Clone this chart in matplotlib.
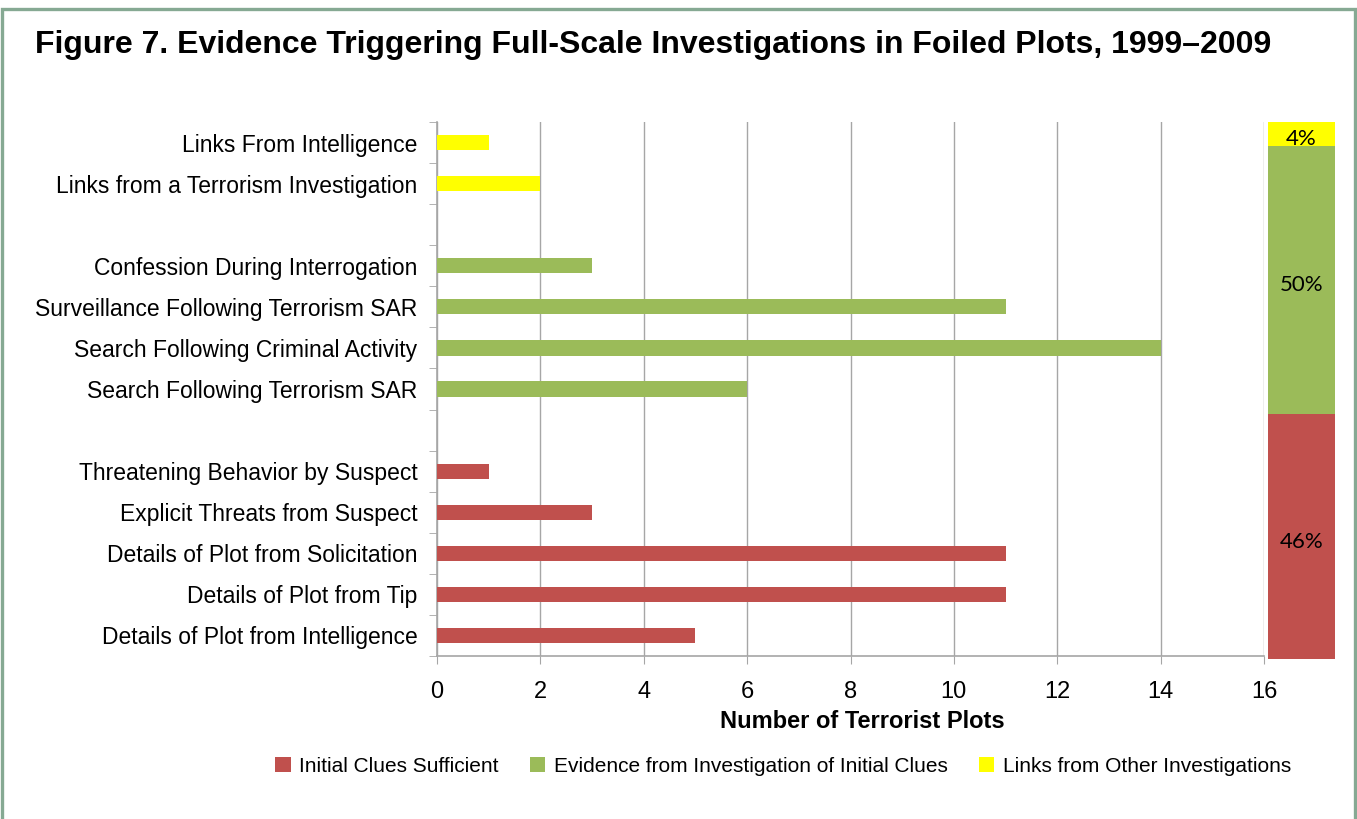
import matplotlib
matplotlib.use("Agg")
import matplotlib.pyplot as plt
from matplotlib.patches import Rectangle, Patch
from matplotlib.transforms import offset_copy

# ---- data ----
categories = [
    "Links From Intelligence",
    "Links from a Terrorism Investigation",
    "",
    "Confession During Interrogation",
    "Surveillance Following Terrorism SAR",
    "Search Following Criminal Activity",
    "Search Following Terrorism SAR",
    "",
    "Threatening Behavior by Suspect",
    "Explicit Threats from Suspect",
    "Details of Plot from Solicitation",
    "Details of Plot from Tip",
    "Details of Plot from Intelligence",
]
values = [1, 2, 0, 3, 11, 14, 6, 0, 1, 3, 11, 11, 5]
groups = ["links", "links", None, "evid", "evid", "evid", "evid", None,
          "init", "init", "init", "init", "init"]
series_names = ["Initial Clues Sufficient",
                "Evidence from Investigation of Initial Clues",
                "Links from Other Investigations"]
series_keys = ["init", "evid", "links"]
x_ticks = [0, 2, 4, 6, 8, 10, 12, 14, 16]

colors = {"init": "#C0504D", "evid": "#9BBB59", "links": "#FFFF00"}
font = "Liberation Sans"
grid_c = "#A6A6A6"

W, H = 1357, 819
fig = plt.figure(figsize=(W / 100, H / 100), dpi=100)
fig.patch.set_facecolor("white")

def fx(px):
    return px / W

def fy(py):
    return 1 - py / H

# frame border
fig.patches.append(Rectangle((fx(1.5), fy(900)), fx(1354.5) - fx(1.5), fy(9) - fy(900),
                             transform=fig.transFigure, fill=False,
                             edgecolor="#86A993", linewidth=2.4, clip_on=False))

fig.text(fx(35), fy(45), "Figure 7. Evidence Triggering Full-Scale Investigations in Foiled Plots, 1999\u20132009",
         fontsize=23, fontweight="bold", family=font, va="center", ha="left")

# main axes
ax = fig.add_axes([fx(437), fy(656), fx(1264) - fx(437), fy(122) - fy(656)])
n = len(categories)
ypos = list(range(n))
for i, (v, g) in enumerate(zip(values, groups)):
    if g is not None and v > 0:
        ax.barh(i, v, height=0.37, color=colors[g], zorder=3)
ax.set_ylim(n - 0.5, -0.5)
ax.set_xlim(0, 16)
ax.set_xticks(x_ticks)
ax.set_xticklabels([str(t) for t in x_ticks], fontsize=17, family=font)
ax.set_yticks(ypos)
ax.set_yticklabels(categories, fontsize=16.5, family=font, va="center_baseline")
ax.tick_params(axis="y", length=0, pad=14)
ax.set_yticks([i - 0.5 for i in range(n + 1)], minor=True)
ax.tick_params(axis="y", which="minor", length=6, color=grid_c, direction="out")
ax.tick_params(axis="x", length=6, color=grid_c, direction="out", pad=12)
ax.grid(axis="x", color=grid_c, linewidth=1.0, zorder=0)
for s in ["top", "right"]:
    ax.spines[s].set_visible(False)
for s in ["left", "bottom"]:
    ax.spines[s].set_color(grid_c)
    ax.spines[s].set_linewidth(1.2)

fig.text(fx(862), fy(722), "Number of Terrorist Plots", fontsize=17, fontweight="bold",
         family=font, ha="center", va="center")

# share stacked bar (shares of all plots by series)
totals = [sum(v for v, g in zip(values, groups) if g == k) for k in series_keys]
grand = sum(totals)
ax2 = fig.add_axes([fx(1268), fy(659), fx(1335) - fx(1268), fy(122) - fy(659)])
txt_tr = offset_copy(ax2.transData, fig=fig, x=0, y=-3, units="dots")
bottom = 0
for key, tot in zip(series_keys, totals):
    pct = 100 * tot / grand
    ax2.bar(0, pct, bottom=bottom, width=1.0, color=colors[key])
    ax2.text(0, bottom + pct / 2, f"{pct:.0f}%", ha="center", va="center_baseline",
             fontsize=16, family="Lato", transform=txt_tr)
    bottom += pct
ax2.set_xlim(-0.5, 0.5)
ax2.set_ylim(0, 100)
ax2.axis("off")

handles = [Patch(facecolor=colors[k], edgecolor="none") for k in series_keys]
fig.legend(handles, series_names, loc="center", bbox_to_anchor=(fx(783), fy(766)),
           ncol=3, frameon=False, prop={"family": font, "size": 15},
           handlelength=0.75, handleheight=0.75, handletextpad=0.4, columnspacing=1.5)

fig.savefig("out.png", dpi=100)
